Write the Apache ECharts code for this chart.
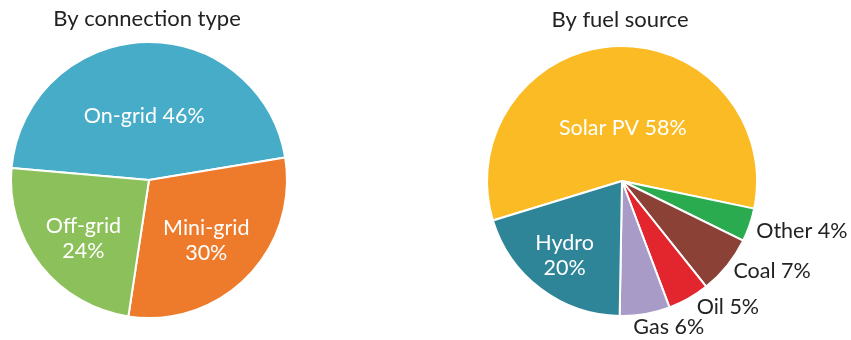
<!DOCTYPE html>
<html>
<head>
<meta charset="utf-8">
<script src="https://cdn.jsdelivr.net/npm/echarts@6/dist/echarts.min.js"></script>
<style>
  html, body { margin: 0; padding: 0; background: #fff; }
  #chart { width: 851px; height: 340px; }
</style>
</head>
<body>
<div id="chart"></div>
<script>
// Electricity access shares
const connectionTypes = ['On-grid', 'Mini-grid', 'Off-grid'];
const connectionShares = [46, 30, 24];
const connectionColors = ['#46acc8', '#ee7b2b', '#8cc05a'];

const fuelSources = ['Solar PV', 'Other', 'Coal', 'Oil', 'Gas', 'Hydro'];
const fuelShares = [58, 4, 7, 5, 6, 20];
const fuelColors = ['#fbbb24', '#2bab50', '#8b4136', '#e3262e', '#a99bc8', '#2e8597'];

const titles = ['By connection type', 'By fuel source'];

const FONT = 'Lato, "Open Sans", sans-serif';

// Label nudges (px) so the text sits in the open part of each slice
const labelNudge = {
  'On-grid': [-2, 8], 'Mini-grid': [6, 10], 'Off-grid': [-9, 14],
  'Solar PV': [4, 17], 'Hydro': [-15, 18],
  'Other': [-6, 4], 'Coal': [-5, 0], 'Oil': [-1, 2], 'Gas': [-18, 5]
};

const insideFuel = { 'Solar PV': true, 'Hydro': true };

function nudge(params, names) {
  const n = names[params.dataIndex];
  const d = labelNudge[n];
  return d ? { dx: d[0], dy: d[1] } : {};
}

const chart = echarts.init(document.getElementById('chart'), null, { renderer: 'canvas' });

const titleStyle = { fontFamily: FONT, fontSize: 22, fill: '#222', align: 'center', verticalAlign: 'middle' };

chart.setOption({
  animation: false,
  graphic: [
    { type: 'text', x: 147, y: 19, style: Object.assign({ text: titles[0] }, titleStyle) },
    { type: 'text', x: 620, y: 20, style: Object.assign({ text: titles[1] }, titleStyle) }
  ],
  series: [
    {
      type: 'pie',
      center: [149, 180],
      radius: 138,
      startAngle: 175,
      clockwise: true,
      itemStyle: { borderColor: '#fff', borderWidth: 2 },
      label: {
        position: 'inside',
        color: '#fff',
        fontFamily: FONT,
        fontSize: 21.5,
        lineHeight: 25,
        formatter: p => p.name === 'On-grid' ? p.name + ' ' + p.value + '%' : p.name + '\n' + p.value + '%'
      },
      labelLine: { show: false },
      labelLayout: p => nudge(p, connectionTypes),
      data: connectionTypes.map((n, i) => ({ name: n, value: connectionShares[i], itemStyle: { color: connectionColors[i] } }))
    },
    {
      type: 'pie',
      center: [622, 181],
      radius: 135,
      startAngle: 197,
      clockwise: true,
      itemStyle: { borderColor: '#fff', borderWidth: 2 },
      avoidLabelOverlap: false,
      labelLine: { show: false, length: 8, length2: 0 },
      labelLayout: p => nudge(p, fuelSources),
      data: fuelSources.map((n, i) => ({
        name: n,
        value: fuelShares[i],
        itemStyle: { color: fuelColors[i] },
        label: insideFuel[n] ? {
          position: 'inside',
          color: '#fff',
          fontFamily: FONT,
          fontSize: 21.5,
          lineHeight: 25,
          formatter: p => p.name === 'Solar PV' ? p.name + ' ' + p.value + '%' : p.name + '\n' + p.value + '%'
        } : {
          position: 'outside',
          color: '#222',
          fontFamily: FONT,
          fontSize: 21.5,
          formatter: p => p.name + ' ' + p.value + '%'
        }
      }))
    }
  ]
});
</script>
</body>
</html>
